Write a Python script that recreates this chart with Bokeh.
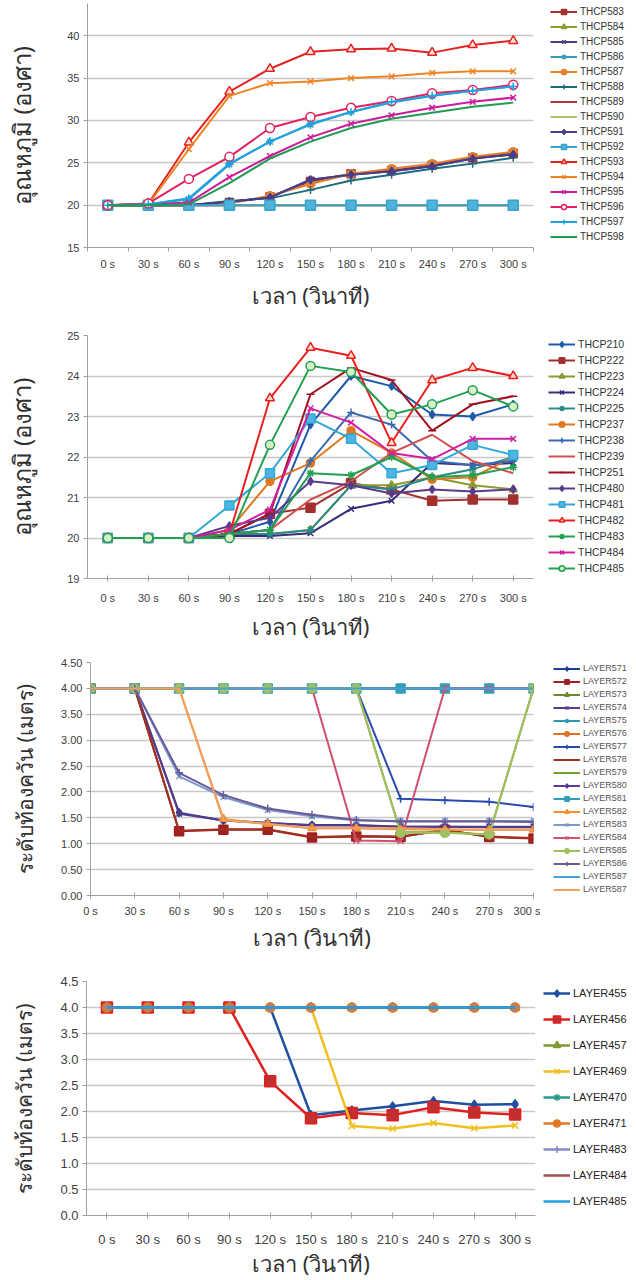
from bokeh.plotting import figure
from bokeh.layouts import column, row
from bokeh.models import Legend, LegendItem, FixedTicker, PrintfTickFormatter, Range1d
from bokeh.embed import file_html
from bokeh.resources import INLINE

# ---------------- data ----------------
TIME_LABELS = ["0 s", "30 s", "60 s", "90 s", "120 s", "150 s", "180 s", "210 s", "240 s", "270 s", "300 s"]

# panel 1 : temperature (deg C)
THCP583 = [20, 20, 20, 20.3, 21.0, 22.8, 23.7, 24.1, 24.7, 25.6, 26.1]
THCP584 = [20, 20, 20, 20, 20, 20, 20, 20, 20, 20, 20]
THCP585 = [20, 20, 20, 20.4, 20.9, 23.0, 23.6, 24.0, 24.6, 25.5, 26.0]
THCP586 = [20, 20.1, 20.7, 24.8, 27.5, 29.5, 31.0, 32.1, 32.9, 33.5, 34.0]
THCP587 = [20, 20, 20, 20.2, 21.1, 22.5, 23.7, 24.3, 24.9, 25.7, 26.3]
THCP588 = [20, 20, 20, 20.5, 20.8, 21.8, 22.9, 23.6, 24.3, 24.9, 25.6]
THCP589 = [20, 20, 20, 20, 20, 20, 20, 20, 20, 20, 20]
THCP590 = [20, 20, 20, 20, 20, 20, 20, 20, 20, 20, 20]
THCP591 = [20, 20, 20, 20.4, 20.9, 23.0, 23.6, 24.0, 24.6, 25.5, 26.0]
THCP592 = [20, 20, 20, 20, 20, 20, 20, 20, 20, 20, 20]
THCP593 = [20, 20.2, 27.4, 33.4, 36.1, 38.1, 38.4, 38.5, 38.0, 38.9, 39.4]
THCP594 = [20, 20.1, 26.6, 32.9, 34.4, 34.6, 35.0, 35.2, 35.6, 35.8, 35.8]
THCP595 = [20, 20.1, 20.3, 23.3, 25.8, 28.0, 29.6, 30.6, 31.5, 32.2, 32.7]
THCP596 = [20, 20.2, 23.1, 25.7, 29.1, 30.4, 31.5, 32.3, 33.2, 33.6, 34.2]
THCP597 = [20, 20.1, 20.8, 24.9, 27.5, 29.6, 31.0, 32.2, 32.9, 33.5, 34.0]
THCP598 = [20, 20.0, 20.1, 22.6, 25.5, 27.5, 29.1, 30.2, 30.9, 31.6, 32.1]

# panel 2 : temperature (deg C)
THCP210 = [20, 20, 20, 20.1, 20.4, 22.8, 24.0, 23.75, 23.05, 23.0, 23.3]
THCP222 = [20, 20, 20, 20.1, 20.6, 20.75, 21.35, 21.2, 20.92, 20.95, 20.95]
THCP223 = [20, 20, 20, 20.1, 20.1, 20.2, 21.3, 21.3, 21.5, 21.3, 21.2]
THCP224 = [20, 20, 20, 20.05, 20.05, 20.12, 20.72, 20.92, 21.85, 21.8, 21.85]
THCP225 = [20, 20, 20, 20.1, 20.1, 20.2, 21.3, 21.2, 21.5, 21.7, 22.0]
THCP237 = [20, 20, 20, 20.2, 21.4, 21.85, 22.65, 22.1, 21.45, 21.5, 22.0]
THCP238 = [20, 20, 20, 20.1, 20.2, 21.9, 23.1, 22.8, 21.9, 21.8, 21.9]
THCP239 = [20, 20, 20, 20.1, 20.2, 20.95, 21.4, 22.1, 22.55, 21.9, 21.6]
THCP251 = [20, 20, 20, 20.1, 20.6, 23.55, 24.2, 23.9, 22.65, 23.3, 23.5]
THCP480 = [20, 20, 20, 20.3, 20.5, 21.4, 21.3, 21.1, 21.2, 21.15, 21.2]
THCP481 = [20, 20, 20, 20.8, 21.6, 22.95, 22.45, 21.6, 21.8, 22.3, 22.05]
THCP482 = [20, 20, 20, 20.1, 23.45, 24.7, 24.5, 22.35, 23.9, 24.2, 24.0]
THCP483 = [20, 20, 20, 20.1, 20.2, 21.6, 21.55, 22.0, 21.5, 21.55, 21.75]
THCP484 = [20, 20, 20, 20.2, 20.7, 23.2, 22.85, 22.1, 21.95, 22.45, 22.45]
THCP485 = [20, 20, 20, 20.0, 22.3, 24.25, 24.1, 23.05, 23.3, 23.65, 23.25]

# panel 3 : smoke layer height (m)
LAYER571 = [4, 4, 1.6, 1.45, 1.4, 1.36, 1.36, 1.33, 1.33, 1.32, 1.32]
LAYER572 = [4, 4, 1.24, 1.27, 1.27, 1.12, 1.14, 1.13, 1.27, 1.13, 1.1]
LAYER573 = [4, 4, 4, 4, 4, 4, 4, 4, 4, 4, 4]
LAYER574 = [4, 4, 1.58, 1.45, 1.4, 1.35, 1.35, 1.33, 1.33, 1.33, 1.33]
LAYER575 = [4, 4, 4, 4, 4, 4, 4, 4, 4, 4, 4]
LAYER576 = [4, 4, 4, 4, 4, 4, 4, 4, 4, 4, 4]
LAYER577 = [4, 4, 4, 4, 4, 4, 4, 1.87, 1.84, 1.81, 1.71]
LAYER578 = [4, 4, 1.25, 1.28, 1.28, 1.13, 1.15, 1.14, 1.26, 1.14, 1.11]
LAYER579 = [4, 4, 4, 4, 4, 4, 4, 1.22, 1.22, 1.18, 4]
LAYER580 = [4, 4, 4, 4, 4, 4, 4, 4, 4, 4, 4]
LAYER581 = [4, 4, 4, 4, 4, 4, 4, 4, 4, 4, 4]
LAYER582 = [4, 4, 4, 1.48, 1.38, 1.3, 1.3, 1.28, 1.27, 1.27, 1.27]
LAYER583 = [4, 4, 2.3, 1.9, 1.65, 1.53, 1.45, 1.44, 1.44, 1.44, 1.44]
LAYER584 = [4, 4, 4, 4, 4, 4, 1.06, 1.05, 4, 4, 4]
LAYER585 = [4, 4, 4, 4, 4, 4, 4, 1.21, 1.21, 1.18, 4]
LAYER586 = [4, 4, 2.37, 1.94, 1.68, 1.56, 1.46, 1.43, 1.43, 1.43, 1.42]
LAYER587 = [4, 4, 4, 4, 4, 4, 4, 4, 4, 4, 4]
LAYER587_B = [4, 4, 4, 1.46, 1.38, 1.3, 1.3, 1.3, 1.28, 1.27, 1.27]

# panel 4 : smoke layer height (m)
LAYER455 = [4, 4, 4, 4, 4, 1.93, 2.02, 2.1, 2.2, 2.13, 2.14]
LAYER456 = [4, 4, 4, 4, 2.58, 1.87, 1.97, 1.93, 2.08, 1.98, 1.94]
LAYER457 = [4, 4, 4, 4, 4, 4, 4, 4, 4, 4, 4]
LAYER469 = [4, 4, 4, 4, 4, 4, 1.72, 1.67, 1.78, 1.68, 1.73]
LAYER470 = [4, 4, 4, 4, 4, 4, 4, 4, 4, 4, 4]
LAYER471 = [4, 4, 4, 4, 4, 4, 4, 4, 4, 4, 4]
LAYER483 = [4, 4, 4, 4, 4, 4, 4, 4, 4, 4, 4]
LAYER484 = [4, 4, 4, 4, 4, 4, 4, 4, 4, 4, 4]
LAYER485 = [4, 4, 4, 4, 4, 4, 4, 4, 4, 4, 4]

P1_SERIES = [("THCP583", THCP583), ("THCP584", THCP584), ("THCP585", THCP585), ("THCP586", THCP586),
             ("THCP587", THCP587), ("THCP588", THCP588), ("THCP589", THCP589), ("THCP590", THCP590),
             ("THCP591", THCP591), ("THCP592", THCP592), ("THCP593", THCP593), ("THCP594", THCP594),
             ("THCP595", THCP595), ("THCP596", THCP596), ("THCP597", THCP597), ("THCP598", THCP598)]
P2_SERIES = [("THCP210", THCP210), ("THCP222", THCP222), ("THCP223", THCP223), ("THCP224", THCP224),
             ("THCP225", THCP225), ("THCP237", THCP237), ("THCP238", THCP238), ("THCP239", THCP239),
             ("THCP251", THCP251), ("THCP480", THCP480), ("THCP481", THCP481), ("THCP482", THCP482),
             ("THCP483", THCP483), ("THCP484", THCP484), ("THCP485", THCP485)]
P3_SERIES = [("LAYER571", LAYER571), ("LAYER572", LAYER572), ("LAYER573", LAYER573), ("LAYER574", LAYER574),
             ("LAYER575", LAYER575), ("LAYER576", LAYER576), ("LAYER577", LAYER577), ("LAYER578", LAYER578),
             ("LAYER579", LAYER579), ("LAYER580", LAYER580), ("LAYER581", LAYER581), ("LAYER582", LAYER582),
             ("LAYER583", LAYER583), ("LAYER584", LAYER584), ("LAYER585", LAYER585), ("LAYER586", LAYER586),
             ("LAYER587", LAYER587), ("LAYER587", LAYER587_B)]
P4_SERIES = [("LAYER455", LAYER455), ("LAYER456", LAYER456), ("LAYER457", LAYER457), ("LAYER469", LAYER469),
             ("LAYER470", LAYER470), ("LAYER471", LAYER471), ("LAYER483", LAYER483), ("LAYER484", LAYER484),
             ("LAYER485", LAYER485)]

Y1_TICKS = [15, 20, 25, 30, 35, 40]
Y2_TICKS = [19, 20, 21, 22, 23, 24, 25]
Y3_TICKS = [0, 0.5, 1, 1.5, 2, 2.5, 3, 3.5, 4, 4.5]
Y4_TICKS = [0, 0.5, 1, 1.5, 2, 2.5, 3, 3.5, 4, 4.5]

TITLE_X = "เวลา (วินาที)"
TITLE_Y_TEMP = "อุณหภูมิ (องศา)"
TITLE_Y_SMOKE = "ระดับท้องควัน (เมตร)"

# ---------------- styles (colour, marker, fill, size) ----------------
S1 = [("#A3302E", "square", "#A3302E", 8), ("#8C9A33", "triangle", "#8C9A33", 8), ("#4A3C80", "x", None, 8),
      ("#3B9DB5", "asterisk", None, 8), ("#E4802A", "circle", "#E4802A", 8), ("#1E6B7B", "cross", None, 8),
      ("#B2333D", None, None, 0), ("#B9BE72", None, None, 0), ("#473D8C", "diamond", "#473D8C", 8),
      ("#3AA3CC", "square", "#4DB3DA", 10), ("#E32222", "triangle", "#FCE6DC", 9), ("#F08424", "x", None, 8),
      ("#CC1C9C", "x", None, 8), ("#E2225C", "circle", "white", 9), ("#1CA3E3", "cross", None, 8),
      ("#1F9B52", None, None, 0)]
S2 = [("#1E5AAA", "diamond", "#1E5AAA", 8), ("#A3302E", "square", "#A3302E", 9), ("#8C9A33", "triangle", "#8C9A33", 8),
      ("#3A2A7A", "x", None, 8), ("#2A8A8A", "asterisk", None, 8), ("#E07820", "circle", "#E07820", 8),
      ("#3A6AB0", "cross", None, 8), ("#D05050", None, None, 0), ("#A01020", "dash", None, 8),
      ("#5A3A8A", "diamond", "#5A3A8A", 8), ("#30A8D8", "square", "#4DB6E0", 9), ("#E82020", "triangle", "#FBD9C0", 9),
      ("#20A050", "asterisk", None, 8), ("#D020A0", "x", None, 8), ("#20A050", "circle", "#D8EFC8", 9)]
S3 = [("#1F3F8F", "diamond", "#1F3F8F", 8), ("#A02020", "square", "#A02020", 9), ("#6A8A2A", "triangle", "#6A8A2A", 8),
      ("#5A3A8A", "x", None, 8), ("#2A9AB0", "asterisk", None, 8), ("#E07020", "circle", "#E07020", 8),
      ("#2A4AB0", "cross", None, 8), ("#A03020", None, None, 0), ("#70A030", None, None, 0),
      ("#5A3A9A", "diamond", "#5A3A9A", 8), ("#30A0B8", "square", "#30A0B8", 9), ("#F09030", "triangle", "#F09030", 8),
      ("#7A9ACA", "x", None, 8), ("#D05070", "x", None, 8), ("#A0C060", "circle", "#A0C060", 9),
      ("#6A5A9A", "cross", None, 8), ("#4AA0D8", None, None, 0), ("#F0A060", None, None, 0)]
S4 = [("#1F4FA0", "diamond", "#1F4FA0", 9), ("#E02020", "square", "#C03030", 11), ("#7A9A30", "triangle", "#7A9A30", 9),
      ("#F0C020", "x", None, 9), ("#2A9A8A", "asterisk", None, 9), ("#E07820", "circle", "#E07820", 9),
      ("#8A8AC8", "cross", None, 9), ("#A05050", None, None, 0), ("#20A0E0", None, None, 0)]

W = 636
MAIN_W = 540
THAI = "Noto Sans"
TICKF = "Liberation Sans"


def add_series(p, xs, vals, style, line_w):
    col, mk, fill, size = style
    rs = [p.line(xs, vals, line_color=col, line_width=line_w)]
    if mk is not None:
        rs.append(p.scatter(xs, vals, marker=mk, size=size, line_color=col,
                            fill_color=fill if fill else col, line_width=1.5))
    return rs


def build(series, styles, height, fl, fr, ft, fb, x_range, y_range, y_ticks, y_fmt, ylabel, ylabel_px,
          tick_px, xl_std, xt_std, yl_std, leg_x, leg_top, leg_h, leg_sp, leg_font, leg_color,
          line_w, boundary_ticks):
    xs = list(range(len(TIME_LABELS)))
    p = figure(width=MAIN_W, height=height, output_backend="svg", toolbar_location=None,
               x_range=Range1d(*x_range), y_range=Range1d(*y_range),
               min_border_left=fl, min_border_right=MAIN_W - fr, min_border_top=ft,
               min_border_bottom=height - fb)
    p.outline_line_color = None
    p.xgrid.visible = False
    p.ygrid.ticker = FixedTicker(ticks=y_ticks)
    p.ygrid.grid_line_color = "#C8C8C8"
    p.ygrid.grid_line_width = 1.5
    # x axis
    xa = p.xaxis[0]
    if boundary_ticks:
        xa.ticker = FixedTicker(ticks=xs, minor_ticks=[i - 0.5 for i in range(len(xs) + 1)])
        xa.major_tick_in = 0
        xa.major_tick_out = 0
        xa.minor_tick_in = 0
        xa.minor_tick_out = 4
        xa.minor_tick_line_color = "#A0A0A0"
    else:
        xa.ticker = FixedTicker(ticks=xs, minor_ticks=[])
        xa.major_tick_in = 3
        xa.major_tick_out = 3
        xa.major_tick_line_color = "#A0A0A0"
    xa.major_label_overrides = {i: t for i, t in enumerate(TIME_LABELS)}
    xa.major_label_text_font = TICKF
    xa.major_label_text_font_size = tick_px
    xa.major_label_text_color = "#404040"
    xa.major_label_standoff = xt_std
    xa.axis_line_color = "#A0A0A0"
    xa.axis_label = TITLE_X
    xa.axis_label_text_font = THAI
    xa.axis_label_text_font_style = "normal"
    xa.axis_label_text_font_size = "22px"
    xa.axis_label_text_color = "#303030"
    xa.axis_label_standoff = xl_std
    # y axis
    ya = p.yaxis[0]
    ya.ticker = FixedTicker(ticks=y_ticks, minor_ticks=[])
    ya.formatter = PrintfTickFormatter(format=y_fmt)
    ya.major_tick_in = 0
    ya.major_tick_out = 4
    ya.major_tick_line_color = "#A0A0A0"
    ya.axis_line_color = "#A0A0A0"
    ya.major_label_text_font = TICKF
    ya.major_label_text_font_size = tick_px
    ya.major_label_text_color = "#404040"
    ya.major_label_standoff = 4
    ya.axis_label = ylabel
    ya.axis_label_text_font = THAI
    ya.axis_label_text_font_style = "normal"
    ya.axis_label_text_font_size = ylabel_px
    ya.axis_label_text_color = "#303030"
    ya.axis_label_standoff = yl_std

    for (name, vals), st in zip(series, styles):
        add_series(p, xs, vals, st, line_w)

    # legend: a narrow companion figure right of the plot. Its frame shares the
    # plot frame's top/bottom; its x range lies outside the data, so only the
    # legend (built from the same series) is visible there.
    lf = figure(width=W - MAIN_W, height=height, output_backend="svg", toolbar_location=None,
                x_range=Range1d(-100, -99), y_range=Range1d(*y_range),
                x_axis_location=None, y_axis_location=None,
                min_border_left=0, min_border_right=0, min_border_top=ft,
                min_border_bottom=height - fb)
    lf.outline_line_color = None
    lf.grid.visible = False
    items = []
    for (name, vals), st in zip(series, styles):
        items.append(LegendItem(label=name, renderers=add_series(lf, xs, vals, st, line_w)))
    n = len(items)
    leg_height = n * leg_h + (n - 1) * leg_sp
    vy = fb - leg_top - leg_height
    legend = Legend(items=items, location=(leg_x - MAIN_W, vy), padding=0, margin=0,
                    spacing=leg_sp, glyph_height=leg_h, label_height=leg_h, glyph_width=27,
                    label_standoff=3, label_text_font=TICKF, label_text_font_size=leg_font,
                    label_text_color=leg_color, border_line_alpha=0, background_fill_alpha=0)
    lf.add_layout(legend)
    return row(p, lf, spacing=0)


p1 = build(P1_SERIES, S1, 312, 87, 533, 3, 247, (-0.5, 10.5), (15, 43.8), Y1_TICKS, "%d",
           TITLE_Y_TEMP, "24px", "11px", 7, 6, 26, 550, 5, 13, 2, "10px", "#333333", 2, True)
p2 = build(P2_SERIES, S2, 333, 87, 533, 23, 266, (-0.5, 10.5), (19, 25), Y2_TICKS, "%d",
           TITLE_Y_TEMP, "24px", "11px", 4, 10, 26, 548, 25, 14, 2, "10.5px", "#333333", 2, False)
p3 = build(P3_SERIES, S3, 313, 90, 533, 17, 250, (0, 10), (0, 4.5), Y3_TICKS, "%.2f",
           TITLE_Y_SMOKE, "21px", "11px", 2, 6, 19, 553, 17.5, 11, 2, "9px", "#555555", 2, False)
p4 = build(P4_SERIES, S4, 322, 86, 535, 23, 259, (-0.5, 10.5), (0, 4.5), Y4_TICKS, "%.1f",
           TITLE_Y_SMOKE, "21px", "13px", -2, 13, 19, 543, 28, 18, 8, "11px", "#222222", 2.5, False)

layout = column(p1, p2, p3, p4, spacing=0)
open("out.html", "w").write(file_html(layout, INLINE))
